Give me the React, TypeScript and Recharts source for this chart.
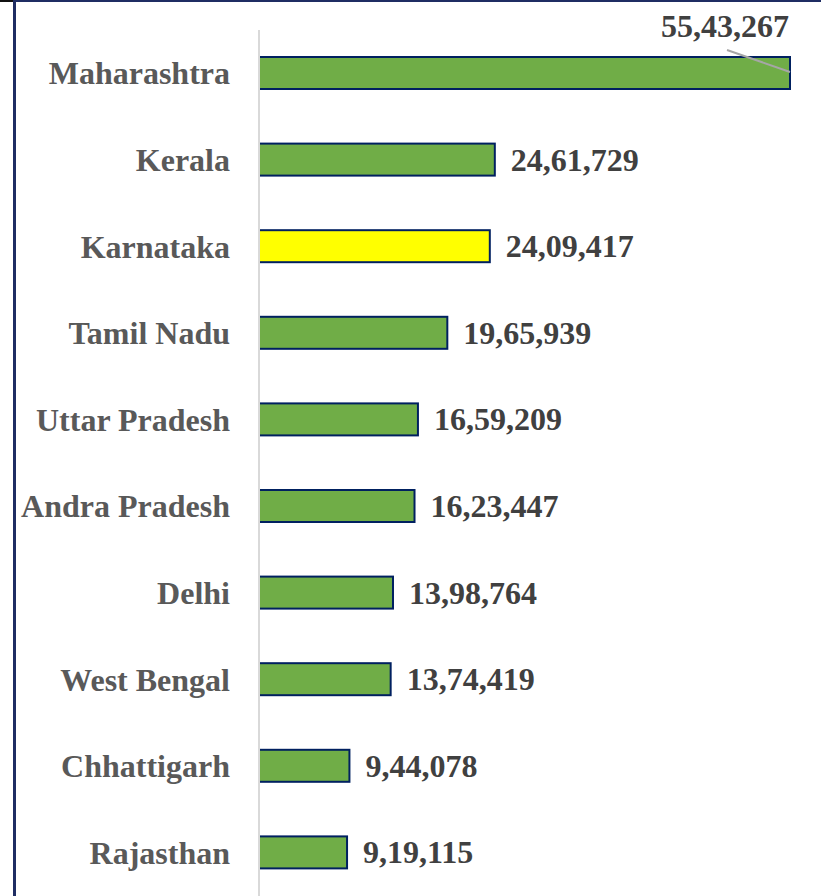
import { Bar, BarChart, LabelList, XAxis, YAxis } from 'recharts';

const states = [
  'Maharashtra',
  'Kerala',
  'Karnataka',
  'Tamil Nadu',
  'Uttar Pradesh',
  'Andra Pradesh',
  'Delhi',
  'West Bengal',
  'Chhattigarh',
  'Rajasthan',
];

const counts = [
  5543267, 2461729, 2409417, 1965939, 1659209, 1623447, 1398764, 1374419, 944078, 919115,
];

const highlighted = 'Karnataka';

const chartData = states.map((state, i) => ({ state, count: counts[i] }));

const FONT = '"Liberation Serif", "Times New Roman", serif';
const FONT_SIZE = 32;

// Indian digit grouping: 55,43,267
function formatIndian(n: number): string {
  const s = String(Math.round(n));
  if (s.length <= 3) return s;
  const last3 = s.slice(-3);
  let rest = s.slice(0, -3);
  const parts: string[] = [];
  while (rest.length > 2) {
    parts.unshift(rest.slice(-2));
    rest = rest.slice(0, -2);
  }
  if (rest) parts.unshift(rest);
  return `${parts.join(',')},${last3}`;
}

function StateTick({ y, payload }: any) {
  return (
    <text
      x={230}
      y={y}
      dy={11}
      textAnchor="end"
      fontFamily={FONT}
      fontWeight="bold"
      fontSize={FONT_SIZE}
      fill="#595959"
    >
      {payload.value}
    </text>
  );
}

function ValueLabel({ x, y, width, height, value, index }: any) {
  const text = formatIndian(Number(value));
  if (index === 0) {
    const right = x + width;
    return (
      <g>
        <line
          x1={right - 63}
          y1={y - 7}
          x2={right}
          y2={y + 15}
          stroke="#A6A6A6"
          strokeWidth={2}
        />
        <text
          x={right - 65}
          y={y - 20}
          textAnchor="middle"
          fontFamily={FONT}
          fontWeight="bold"
          fontSize={FONT_SIZE}
          fill="#404040"
        >
          {text}
        </text>
      </g>
    );
  }
  return (
    <text
      x={x + width + 16}
      y={y + height / 2}
      dy={11}
      textAnchor="start"
      fontFamily={FONT}
      fontWeight="bold"
      fontSize={FONT_SIZE}
      fill="#404040"
    >
      {text}
    </text>
  );
}

export default function App() {
  return (
    <div
      style={{
        position: 'absolute',
        left: 0,
        top: 0,
        width: 821,
        height: 896,
        background: '#ffffff',
        overflow: 'hidden',
      }}
    >
      <div style={{ position: 'absolute', left: 0, top: 0, width: 14, height: 2, background: '#111111' }} />
      <div style={{ position: 'absolute', left: 14, top: 0, width: 807, height: 2, background: '#1F2D63' }} />
      <div style={{ position: 'absolute', left: 13, top: 0, width: 3, height: 896, background: '#1F2D63' }} />
      <BarChart
        width={821}
        height={896}
        data={chartData}
        layout="vertical"
        margin={{ top: 30, right: 31, left: 0, bottom: 0 }}
        style={{ position: 'absolute', left: 0, top: 0 }}
      >
        <XAxis type="number" hide domain={[0, counts[0]]} />
        <YAxis
          type="category"
          dataKey="state"
          width={259}
          tick={<StateTick />}
          tickLine={false}
          axisLine={{ stroke: '#D9D9D9', strokeWidth: 2 }}
          interval={0}
        />
        <Bar
          dataKey="count"
          barSize={32}
          stroke="#002060"
          strokeWidth={2}
          isAnimationActive={false}
          shape={(props: any) => (
            <rect
              x={props.x}
              y={props.y}
              width={props.width}
              height={props.height}
              fill={props.state === highlighted ? '#FFFF00' : '#70AD47'}
              stroke="#002060"
              strokeWidth={2}
            />
          )}
        >
          <LabelList dataKey="count" content={<ValueLabel />} />
        </Bar>
      </BarChart>
    </div>
  );
}
